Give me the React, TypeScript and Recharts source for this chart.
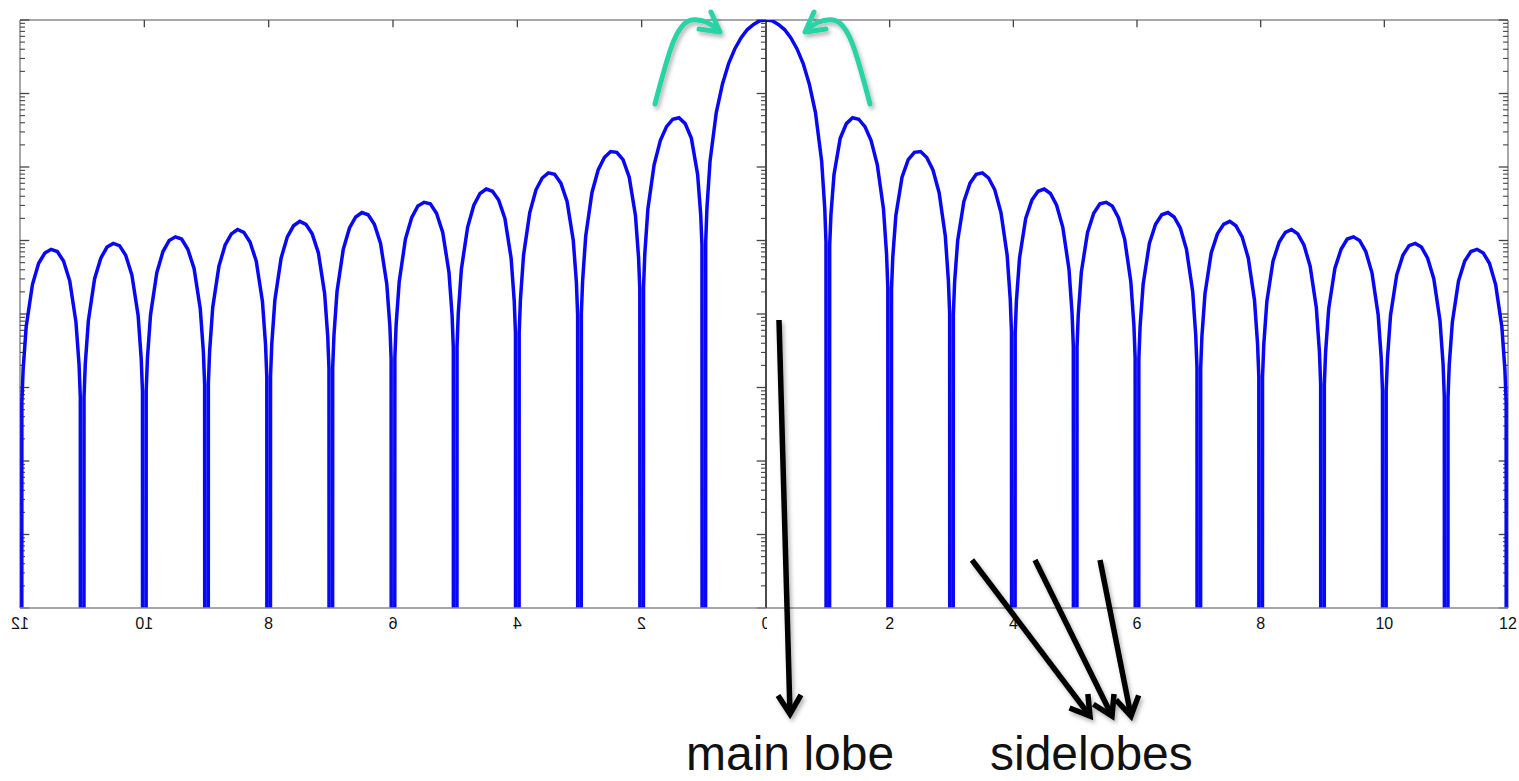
import { LineChart, Line, XAxis, YAxis, ReferenceLine } from 'recharts';

// response in dB (one side; the left panel mirrors it)
const mainLobeX = [0, 0.1, 0.2, 0.3, 0.4, 0.5, 0.6, 0.7, 0.8, 0.9, 0.95, 0.97];
const mainLobeDb = [0, -0.1, -0.6, -1.3, -2.4, -3.9, -5.9, -8.7, -12.6, -19.2, -25.6, -30.2];

// sample positions inside each sidelobe, measured from the null on its left
const lobeOffsets = [0.03, 0.05, 0.1, 0.2, 0.3, 0.4, 0.5, 0.6, 0.7, 0.8, 0.9, 0.95, 0.97];
const sidelobeDb = [
  [-30.7, -26.5, -21.0, -16.1, -14.1, -13.3, -13.5, -14.5, -16.4, -19.7, -25.7, -31.9, -36.4],
  [-36.6, -32.3, -26.6, -21.4, -19.0, -18.0, -17.9, -18.7, -20.4, -23.5, -29.4, -35.5, -39.9],
  [-40.1, -35.7, -30.0, -24.7, -22.2, -21.0, -20.8, -21.5, -23.1, -26.2, -32.0, -38.0, -42.5],
  [-42.6, -38.2, -32.4, -27.0, -24.5, -23.3, -23.0, -23.6, -25.2, -28.2, -33.9, -39.9, -44.4],
  [-44.5, -40.1, -34.3, -28.9, -26.3, -25.0, -24.8, -25.3, -26.9, -29.8, -35.6, -41.5, -46.0],
  [-46.1, -41.7, -35.9, -30.4, -27.8, -26.5, -26.2, -26.8, -28.3, -31.2, -36.9, -42.9, -47.3],
  [-47.4, -43.0, -37.2, -31.7, -29.1, -27.8, -27.4, -28.0, -29.5, -32.4, -38.1, -44.1, -48.5],
  [-48.6, -44.2, -38.3, -32.8, -30.2, -28.9, -28.5, -29.1, -30.6, -33.5, -39.1, -45.1, -49.5],
  [-49.6, -45.2, -39.3, -33.8, -31.2, -29.8, -29.5, -30.0, -31.5, -34.4, -40.1, -46.0, -50.4],
  [-50.5, -46.1, -40.2, -34.7, -32.0, -30.7, -30.4, -30.9, -32.4, -35.2, -40.9, -46.8, -51.3],
  [-51.3, -46.9, -41.1, -35.5, -32.8, -31.5, -31.2, -31.7, -33.1, -36.0, -41.7, -47.6, -52.0],
];

// zeros of the response, plotted far below the floor so they run off the axis
const nullX = [1, 2, 3, 4, 5, 6, 7, 8, 9, 10, 11, 12];
const NULL_DB = -1000;

const xTicks = [0, 2, 4, 6, 8, 10, 12];
const xTickLabels = ['0', '2', '4', '6', '8', '10', '12'];
const topTicks = [2, 4, 6, 8, 10];
const decadesDb = [0, -10, -20, -30, -40, -50, -60, -70, -80];
const minorSteps = [2, 3, 4, 5, 6, 7, 8, 9];

const BLUE = '#0808f2';
const FRAME = '#8a8a8a';
const TICK = '#444';
const FONT = '"Liberation Sans", Arial, Helvetica, sans-serif';

function buildData() {
  const rows: { x: number; db: number }[] = mainLobeX.map((x, i) => ({ x, db: mainLobeDb[i] }));
  nullX.forEach((n, i) => {
    rows.push({ x: n, db: NULL_DB });
    const lobe = sidelobeDb[i];
    if (lobe) lobeOffsets.forEach((o, j) => rows.push({ x: n + o, db: lobe[j] }));
  });
  return rows;
}

const data = buildData();

const minorDb: number[] = [];
decadesDb.slice(1).forEach((d) => minorSteps.forEach((k) => minorDb.push(d + 10 * Math.log10(k))));

// inward tick marks along a vertical edge at x = edge, pointing toward edge + dir
function edgeTicks(edge: number, dir: number, key: string) {
  const major = decadesDb.map((v) => (
    <ReferenceLine key={`${key}-M${v}`} segment={[{ x: edge, y: v }, { x: edge + dir * 0.15, y: v }]} stroke={TICK} strokeWidth={1.3} />
  ));
  const minor = minorDb.map((v, i) => (
    <ReferenceLine key={`${key}-m${i}`} segment={[{ x: edge, y: v }, { x: edge + dir * 0.08, y: v }]} stroke={TICK} strokeWidth={1.1} />
  ));
  return [...major, ...minor];
}

function MirroredTick(props: any) {
  const { x, y, payload } = props;
  const label = xTickLabels[xTicks.indexOf(payload.value)];
  const isZero = payload.value === 0;
  const clipId = `zero-half-${Math.round(x)}`;
  return (
    <g>
      {isZero && (
        <defs>
          <clipPath id={clipId}>
            <rect x={x - 14} y={y - 5} width={15} height={30} />
          </clipPath>
        </defs>
      )}
      <g clipPath={isZero ? `url(#${clipId})` : undefined}>
        <text
          transform={`translate(${x},0) scale(-1,1)`}
          x={0}
          y={y + 2}
          dy="0.71em"
          textAnchor="middle"
          fontSize={16}
          fontFamily={FONT}
          fill="#111"
        >
          {label}
        </text>
      </g>
    </g>
  );
}

function PlainTick(props: any) {
  const { x, y, payload } = props;
  if (payload.value === 0) return <g />;
  const label = xTickLabels[xTicks.indexOf(payload.value)];
  return (
    <text x={x} y={y + 2} dy="0.71em" textAnchor="middle" fontSize={16} fontFamily={FONT} fill="#111">
      {label}
    </text>
  );
}

function Panel({ mirrored }: { mirrored: boolean }) {
  const width = mirrored ? 800 : 1519;
  const margin = mirrored
    ? { top: 20, right: 34, bottom: 22, left: 20 }
    : { top: 20, right: 11, bottom: 22, left: 766 };
  return (
    <LineChart width={width} height={660} data={data} margin={margin}>
      <XAxis
        dataKey="x"
        type="number"
        domain={[0, 12]}
        allowDataOverflow
        reversed={mirrored}
        ticks={xTicks}
        interval={0}
        height={30}
        tickLine={false}
        axisLine={{ stroke: FRAME, strokeWidth: 1.5 }}
        tick={mirrored ? <MirroredTick /> : <PlainTick />}
      />
      <YAxis hide type="number" domain={[-80, 0]} allowDataOverflow />
      <ReferenceLine y={0} stroke={FRAME} strokeWidth={1.5} />
      <ReferenceLine x={12} stroke={FRAME} strokeWidth={1.5} />
      {mirrored && <ReferenceLine x={0} stroke="#111" strokeWidth={1.5} />}
      {topTicks.map((t) => (
        <ReferenceLine key={`top${t}`} segment={[{ x: t, y: 0 }, { x: t, y: -1 }]} stroke={TICK} strokeWidth={1.3} />
      ))}
      {edgeTicks(12, -1, 'edge')}
      {mirrored && edgeTicks(0, 1, 'mid')}
      <Line
        type="linear"
        dataKey="db"
        stroke={BLUE}
        strokeWidth={3.5}
        dot={false}
        activeDot={false}
        isAnimationActive={false}
      />
    </LineChart>
  );
}

function headPoints(x1: number, y1: number, x2: number, y2: number, len: number, spread: number) {
  const a = Math.atan2(y2 - y1, x2 - x1);
  const p1 = [x2 - len * Math.cos(a - spread), y2 - len * Math.sin(a - spread)];
  const p2 = [x2 - len * Math.cos(a + spread), y2 - len * Math.sin(a + spread)];
  return `${p1[0]},${p1[1]} ${x2},${y2} ${p2[0]},${p2[1]}`;
}

const blackArrows = [
  [779, 320, 790, 714],
  [972, 560, 1090, 716],
  [1035, 560, 1112, 716],
  [1100, 560, 1131, 716],
];

function Annotations() {
  return (
    <svg width={1519} height={781} style={{ position: 'absolute', left: 0, top: 0, pointerEvents: 'none' }}>
      <defs>
        <filter id="shadow" x="-20%" y="-20%" width="140%" height="140%">
          <feDropShadow dx={2} dy={3} stdDeviation={2} floodColor="#000" floodOpacity={0.3} />
        </filter>
      </defs>
      <g filter="url(#shadow)" stroke="#2ad3a6" strokeWidth={5} fill="none" strokeLinecap="round" strokeLinejoin="round">
        <path d="M655,104 C668,55 676,22 692,20 C703,19 712,24 719,31" />
        <polyline points="711,12 720,32 699,29" />
        <path d="M870,104 C857,55 849,22 833,20 C822,19 813,24 806,31" />
        <polyline points="814,12 805,32 826,29" />
      </g>
      <g filter="url(#shadow)" stroke="#000" strokeWidth={5.5} fill="none" strokeLinejoin="miter">
        {blackArrows.map(([x1, y1, x2, y2], i) => (
          <g key={i}>
            <line x1={x1} y1={y1} x2={x2} y2={y2} />
            <polyline points={headPoints(x1, y1, x2, y2, 22, 0.55)} />
          </g>
        ))}
      </g>
      <text x={686} y={770} fontSize={48} fontFamily={FONT} fill="#111">main lobe</text>
      <text x={990} y={770} fontSize={48} fontFamily={FONT} fill="#111">sidelobes</text>
    </svg>
  );
}

export default function App() {
  return (
    <div style={{ position: 'absolute', left: 0, top: 0, width: 1519, height: 781, background: '#fff', overflow: 'hidden' }}>
      <div style={{ position: 'absolute', left: 0, top: 0 }}>
        <Panel mirrored={false} />
      </div>
      <div style={{ position: 'absolute', left: 0, top: 0 }}>
        <Panel mirrored />
      </div>
      <Annotations />
    </div>
  );
}
